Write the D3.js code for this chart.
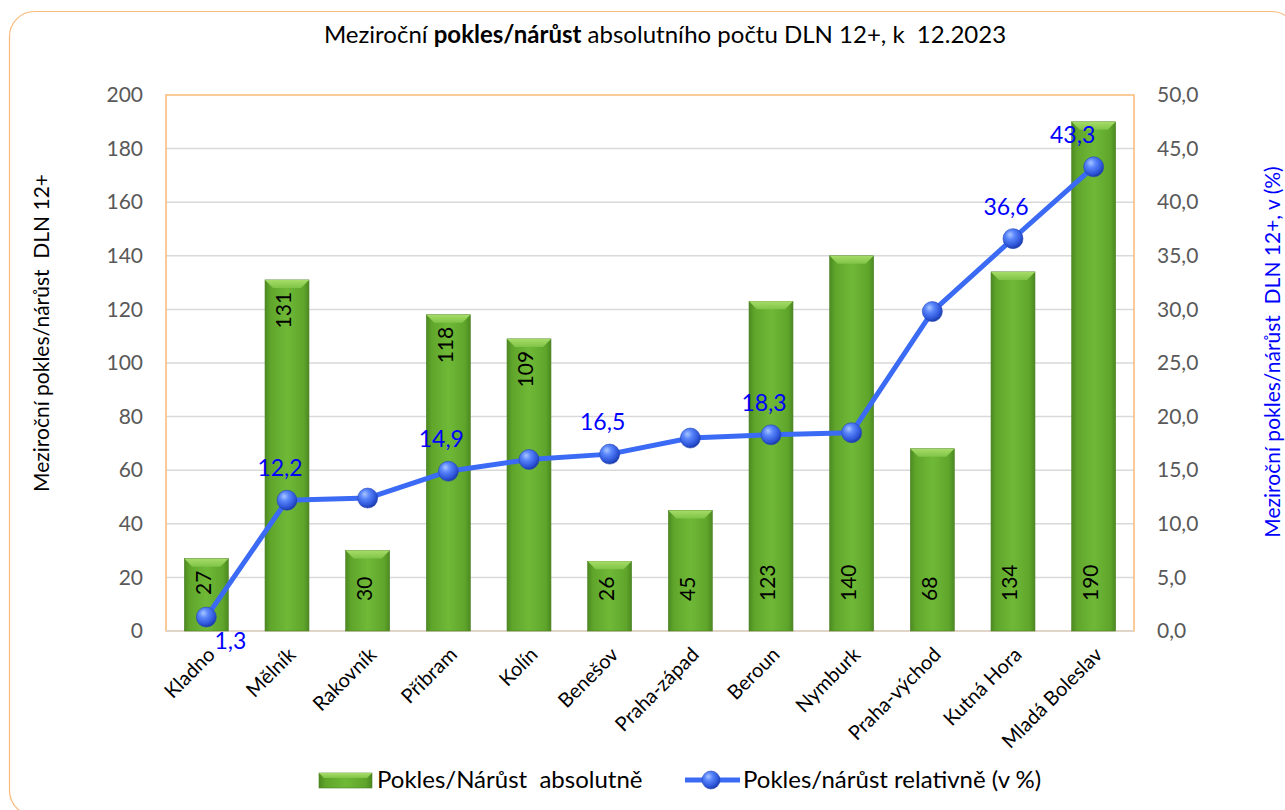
<!DOCTYPE html>
<html>
<head>
<meta charset="utf-8">
<script src="https://cdn.jsdelivr.net/npm/d3@7"></script>
<style>
  html, body { margin: 0; padding: 0; background: #fff; }
  svg { display: block; font-family: Lato, "Open Sans", sans-serif; }
  svg text { white-space: pre; }
</style>
</head>
<body>
<svg id="chart" width="1285" height="810"></svg>
<script>
// ---- data ----
const categories = ["Kladno", "Mělník", "Rakovník", "Příbram", "Kolín", "Benešov",
  "Praha-západ", "Beroun", "Nymburk", "Praha-východ", "Kutná Hora", "Mladá Boleslav"];
const absoluteValues = [27, 131, 30, 118, 109, 26, 45, 123, 140, 68, 134, 190];
const absoluteLabelAtTop = [true, true, false, true, true, false, false, false, false, false, false, false];
const relativeValues = [1.3, 12.2, 12.4, 14.9, 16.0, 16.5, 18.0, 18.3, 18.5, 29.8, 36.6, 43.3];
const relativeLabelShown = [true, true, false, true, false, true, false, true, false, false, true, true];
const leftTicks = [0, 20, 40, 60, 80, 100, 120, 140, 160, 180, 200];
const rightTicks = [0, 5, 10, 15, 20, 25, 30, 35, 40, 45, 50];
const titleParts = [
  { text: "Meziroční ", bold: false },
  { text: "pokles/nárůst", bold: true },
  { text: " absolutního počtu DLN 12+, k  12.2023", bold: false }
];
const leftAxisTitle = "Meziroční pokles/nárůst  DLN 12+";
const rightAxisTitle = "Meziroční pokles/nárůst  DLN 12+, v (%)";
const legendBarLabel = "Pokles/Nárůst  absolutně";
const legendLineLabel = "Pokles/nárůst relativně (v %)";

// ---- layout ----
const svg = d3.select("#chart");
const plot = { left: 166, right: 1134, top: 95, bottom: 631 };
const czLocale = d3.formatLocale({ decimal: ",", thousands: " ", grouping: [3], currency: ["", " Kč"] });
const fmt1 = czLocale.format(".1f");

const x = d3.scaleBand().domain(categories).range([plot.left, plot.right])
  .paddingInner(0.455).paddingOuter(0.2275);
const yL = d3.scaleLinear().domain([0, 200]).range([plot.bottom, plot.top]);
const yR = d3.scaleLinear().domain([0, 50]).range([plot.bottom, plot.top]);

// ---- defs ----
const defs = svg.append("defs");
const barGrad = defs.append("linearGradient").attr("id", "barGrad").attr("x1", 0).attr("x2", 1).attr("y1", 0).attr("y2", 0);
[[0, "#4c8a21"], [0.12, "#5fa52b"], [0.5, "#6fb937"], [0.88, "#5fa52b"], [1, "#4c8a21"]]
  .forEach(([o, c]) => barGrad.append("stop").attr("offset", o).attr("stop-color", c));
const bevelGrad = defs.append("linearGradient").attr("id", "bevelGrad").attr("x1", 0).attr("x2", 0).attr("y1", 0).attr("y2", 1);
[[0, "#a6dc68"], [1, "#80c447"]].forEach(([o, c]) => bevelGrad.append("stop").attr("offset", o).attr("stop-color", c));
const ball = defs.append("radialGradient").attr("id", "ball").attr("cx", "0.4").attr("cy", "0.35").attr("r", "0.65").attr("fx", "0.35").attr("fy", "0.3");
[[0, "#a9c6ff"], [0.35, "#5a86fb"], [0.8, "#2d55d8"], [1, "#1c3aa8"]]
  .forEach(([o, c]) => ball.append("stop").attr("offset", o).attr("stop-color", c));

// ---- outer frame ----
svg.append("rect").attr("x", 9.5).attr("y", 11.5).attr("width", 1287).attr("height", 804)
  .attr("rx", 25).attr("ry", 25).attr("fill", "#fff").attr("stroke", "#f9b978").attr("stroke-width", 1.2);

// ---- title ----
const title = svg.append("text").attr("x", 665).attr("y", 43).attr("text-anchor", "middle")
  .attr("font-size", 24).attr("fill", "#000");
titleParts.forEach(p => title.append("tspan").text(p.text).attr("font-weight", p.bold ? 700 : 400));

// ---- gridlines ----
svg.append("g").selectAll("line").data(leftTicks.filter(t => t > 0 && t < 200)).join("line")
  .attr("x1", plot.left).attr("x2", plot.right)
  .attr("y1", d => yL(d)).attr("y2", d => yL(d))
  .attr("stroke", "#d9d9d9").attr("stroke-width", 1.5);

// plot area border
svg.append("rect").attr("x", plot.left).attr("y", plot.top)
  .attr("width", plot.right - plot.left).attr("height", plot.bottom - plot.top)
  .attr("fill", "none").attr("stroke", "#f9b978").attr("stroke-width", 1.5);

// ---- axes ----
const axL = svg.append("g").attr("transform", `translate(${plot.left},0)`)
  .call(d3.axisLeft(yL).tickValues(leftTicks).tickSize(0).tickPadding(23));
axL.select(".domain").remove();
axL.selectAll("text").attr("font-size", 21).attr("fill", "#595959").attr("font-family", "Lato");

const axR = svg.append("g").attr("transform", `translate(${plot.right},0)`)
  .call(d3.axisRight(yR).tickValues(rightTicks).tickFormat(fmt1).tickSize(0).tickPadding(23));
axR.select(".domain").remove();
axR.selectAll("text").attr("font-size", 21).attr("fill", "#595959").attr("font-family", "Lato");

// category axis line
svg.append("line").attr("x1", plot.left).attr("x2", plot.right)
  .attr("y1", plot.bottom).attr("y2", plot.bottom)
  .attr("stroke", "#d9d9d9").attr("stroke-width", 1.5);

// category labels
const axB = svg.append("g").attr("transform", `translate(0,${plot.bottom})`)
  .call(d3.axisBottom(x).tickSize(0).tickPadding(0));
axB.select(".domain").remove();
axB.selectAll("text")
  .attr("font-size", 20).attr("fill", "#000").attr("font-family", "Lato")
  .attr("text-anchor", "end")
  .attr("transform", "translate(5,20) rotate(-45)")
  .attr("dy", "0.35em").attr("y", 0);

// ---- bars ----
const bw = x.bandwidth();
const bevel = 8;
const bars = svg.append("g").selectAll("g").data(categories).join("g");
bars.append("rect")
  .attr("x", d => x(d)).attr("y", (d, i) => yL(absoluteValues[i]))
  .attr("width", bw).attr("height", (d, i) => plot.bottom - yL(absoluteValues[i]))
  .attr("fill", "url(#barGrad)").attr("stroke", "#4a7f25").attr("stroke-width", 0.6);
bars.append("path")
  .attr("d", (d, i) => {
    const x0 = x(d), x1 = x(d) + bw, y0 = yL(absoluteValues[i]);
    return `M${x0},${y0}L${x1},${y0}L${x1 - bevel},${y0 + bevel}L${x0 + bevel},${y0 + bevel}Z`;
  })
  .attr("fill", "url(#bevelGrad)");
bars.append("text")
  .attr("transform", (d, i) => absoluteLabelAtTop[i]
    ? `translate(${x(d) + bw / 2},${yL(absoluteValues[i]) + 12}) rotate(-90)`
    : `translate(${x(d) + bw / 2},${yL(0) - 30}) rotate(-90)`)
  .attr("text-anchor", (d, i) => absoluteLabelAtTop[i] ? "end" : "start")
  .attr("dy", "0.2em")
  .attr("font-size", 21).attr("fill", "#000")
  .text((d, i) => absoluteValues[i]);

// ---- line ----
const cx = d => x(d) + bw / 2;
const line = d3.line().x((d, i) => cx(categories[i])).y(d => yR(d));
svg.append("path").datum(relativeValues).attr("d", line)
  .attr("fill", "none").attr("stroke", "#3b6af5").attr("stroke-width", 5).attr("stroke-linejoin", "round");
svg.append("g").selectAll("circle").data(relativeValues).join("circle")
  .attr("cx", (d, i) => cx(categories[i])).attr("cy", d => yR(d)).attr("r", 10)
  .attr("fill", "url(#ball)").attr("stroke", "#2446b8").attr("stroke-width", 0.6);

// line labels
svg.append("g").selectAll("text").data(relativeValues.map((v, i) => ({ v, i })).filter(d => relativeLabelShown[d.i]))
  .join("text")
  .attr("x", d => {
    const c = cx(categories[d.i]);
    if (d.i === 0) return c + 24;
    if (d.i === categories.length - 1) return c - 21;
    return c - 7;
  })
  .attr("y", d => d.i === 0 ? yR(d.v) + 32 : yR(d.v) - 24)
  .attr("text-anchor", "middle").attr("font-size", 23).attr("fill", "#0000ff")
  .text(d => fmt1(d.v));

// ---- axis titles ----
svg.append("text").attr("transform", "translate(49,333) rotate(-90)")
  .attr("text-anchor", "middle").attr("font-size", 21).attr("fill", "#000").text(leftAxisTitle);
svg.append("text").attr("transform", "translate(1280,352) rotate(-90)")
  .attr("text-anchor", "middle").attr("font-size", 21).attr("fill", "#0000ff").text(rightAxisTitle);

// ---- legend ----
const lg = svg.append("g");
lg.append("rect").attr("x", 319).attr("y", 773).attr("width", 53).attr("height", 15)
  .attr("fill", "url(#barGrad)").attr("stroke", "#4a7f25").attr("stroke-width", 0.6);
lg.append("path").attr("d", "M319,773L372,773L367,778L324,778Z").attr("fill", "url(#bevelGrad)");
lg.append("text").attr("x", 377).attr("y", 788).attr("font-size", 24).attr("fill", "#000").text(legendBarLabel);
lg.append("line").attr("x1", 685).attr("x2", 740).attr("y1", 780).attr("y2", 780)
  .attr("stroke", "#3b6af5").attr("stroke-width", 5);
lg.append("circle").attr("cx", 711).attr("cy", 780).attr("r", 9).attr("fill", "url(#ball)")
  .attr("stroke", "#2446b8").attr("stroke-width", 0.6);
lg.append("text").attr("x", 743).attr("y", 788).attr("font-size", 24).attr("fill", "#000").text(legendLineLabel);
</script>
</body>
</html>
